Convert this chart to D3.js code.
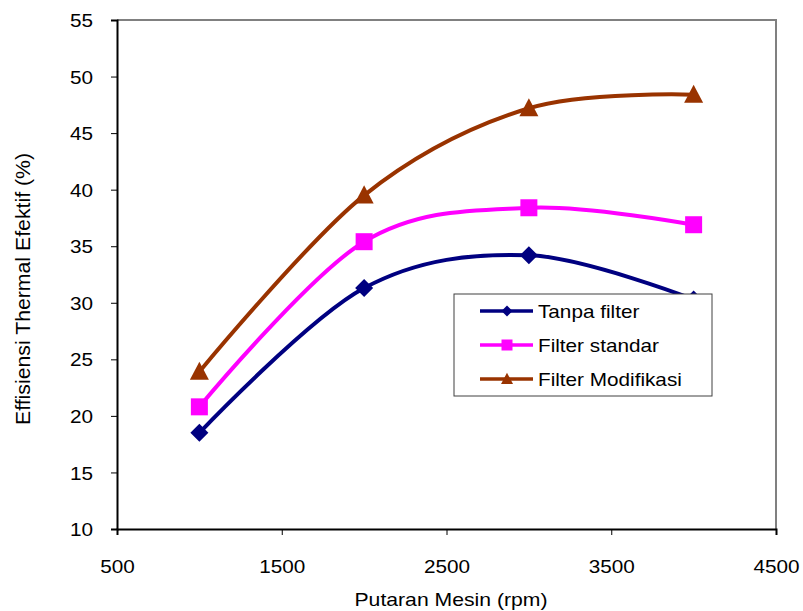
<!DOCTYPE html>
<html><head><meta charset="utf-8">
<script src="https://cdn.jsdelivr.net/npm/d3@7"></script>
<style>body{margin:0;background:#fff}</style>
</head><body>
<svg id="c" width="803" height="611"></svg>
<script>
const rpm = [1000, 2000, 3000, 4000];
const tanpaFilter = [18.5, 31.3, 34.2, 30.3];
const filterStandar = [20.8, 35.4, 38.4, 36.9];
const filterModifikasi = [23.9, 39.5, 47.2, 48.4];
const seriesNames = ["Tanpa filter", "Filter standar", "Filter Modifikasi"];
const xTicks = [500, 1500, 2500, 3500, 4500];
const yTicks = [10, 15, 20, 25, 30, 35, 40, 45, 50, 55];

const colors = ["#000080", "#FF00FF", "#993300"];
const seriesVals = [tanpaFilter, filterStandar, filterModifikasi];

// custom symbols; size = half width in px
const diamond = {draw(c, s){ c.moveTo(0,-s); c.lineTo(s,0); c.lineTo(0,s); c.lineTo(-s,0); c.closePath(); }};
const square = {draw(c, s){ c.rect(-s,-s,2*s,2*s); }};
const triangle = {draw(c, s){ c.moveTo(0,-s*1.05); c.lineTo(s,s*0.85); c.lineTo(-s,s*0.85); c.closePath(); }};
const symbols = [diamond, square, triangle];
const symSizes = [9, 8.5, 9.5];
const legSizes = [5.5, 5.5, 6];

const svg = d3.select("#c");
const font = "Liberation Sans, Arial, sans-serif";
const L = 117, R = 776, T = 20, B = 529;
const x = d3.scaleLinear().domain([500, 4500]).range([L, R]);
const y = d3.scaleLinear().domain([10, 55]).range([B, T]);

function stretch(sel, k) {
  sel.each(function(){ const w = this.getComputedTextLength(); d3.select(this).attr("textLength", w * k).attr("lengthAdjust", "spacingAndGlyphs"); });
}

svg.append("path").attr("d", `M${L},${T}H${R}V${B}`).attr("fill", "none")
  .attr("stroke", "#808080").attr("stroke-width", 2);

const xAxis = svg.append("g").attr("transform", `translate(0,${B})`)
  .call(d3.axisBottom(x).tickValues(xTicks).tickSize(6).tickPadding(25).tickFormat(d3.format("d")));
const yAxis = svg.append("g").attr("transform", `translate(${L},0)`)
  .call(d3.axisLeft(y).tickValues(yTicks).tickSize(6).tickPadding(18));
[xAxis, yAxis].forEach(g => {
  g.select(".domain").attr("stroke", "#000").attr("stroke-width", 2);
  g.selectAll(".tick line").attr("stroke", "#000").attr("stroke-width", 1);
  g.selectAll("text").attr("font-family", font).attr("font-size", 19).attr("fill", "#000");
  stretch(g.selectAll("text"), 1.09);
});
yAxis.selectAll("text").attr("dy", "0.35em");

const line = d3.line().x(d => x(d[0])).y(d => y(d[1])).curve(d3.curveCardinal.tension(0));

seriesVals.forEach((vals, i) => {
  const pts = rpm.map((r, j) => [r, vals[j]]);
  svg.append("path").attr("d", line(pts)).attr("fill", "none")
    .attr("stroke", colors[i]).attr("stroke-width", 4);
  svg.selectAll(null).data(pts).enter().append("path")
    .attr("d", d3.symbol().type(symbols[i]).size(symSizes[i]))
    .attr("transform", d => `translate(${x(d[0])},${y(d[1])})`)
    .attr("fill", colors[i]);
});

// legend
const lg = svg.append("g");
lg.append("rect").attr("x", 454).attr("y", 294).attr("width", 258).attr("height", 102)
  .attr("fill", "#fff").attr("stroke", "#404040").attr("stroke-width", 1);
seriesNames.forEach((n, i) => {
  const cy = 311 + i * 34;
  lg.append("line").attr("x1", 480).attr("x2", 533).attr("y1", cy).attr("y2", cy)
    .attr("stroke", colors[i]).attr("stroke-width", 3.5);
  lg.append("path").attr("d", d3.symbol().type(symbols[i]).size(legSizes[i]))
    .attr("transform", `translate(507,${cy})`).attr("fill", colors[i]);
  const t = lg.append("text").attr("x", 538).attr("y", cy).attr("dy", "0.35em")
    .attr("font-family", font).attr("font-size", 19).text(n);
  stretch(t, 1.09);
});

const xt = svg.append("text").attr("x", 451).attr("y", 606).attr("text-anchor", "middle")
  .attr("font-family", font).attr("font-size", 19).text("Putaran Mesin (rpm)");
xt.attr("textLength", 193).attr("lengthAdjust", "spacingAndGlyphs");
const yt = svg.append("text").attr("transform", `translate(30,289) rotate(-90)`)
  .attr("text-anchor", "middle").attr("font-family", font).attr("font-size", 20)
  .text("Effisiensi Thermal Efektif (%)");
yt.attr("textLength", 272).attr("lengthAdjust", "spacingAndGlyphs");
</script>
</body></html>
